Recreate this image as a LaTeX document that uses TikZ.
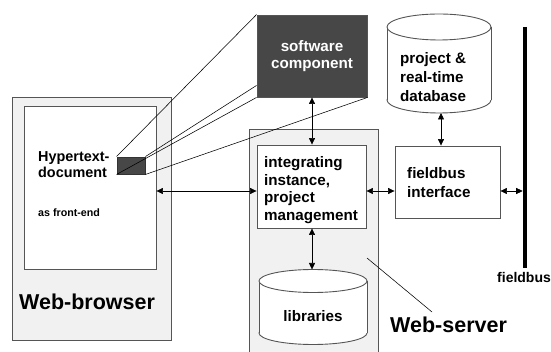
\documentclass[tikz,border=0pt]{standalone}
\usepackage{fontspec}
\setmainfont{Liberation Sans}
\usetikzlibrary{arrows.meta}
\definecolor{panel}{HTML}{F1F1F1}
\definecolor{dark}{HTML}{474747}
\definecolor{edge}{HTML}{555555}
\begin{document}
\begin{tikzpicture}[x=1pt,y=-1pt,
  box/.style={draw=edge, line width=0.9pt, inner sep=0pt},
  arr/.style={{Triangle[length=6.5pt,width=6pt]}-{Triangle[length=6.5pt,width=6pt]}, line width=0.6pt, black},
  proj/.style={line width=0.55pt, black},
  txt/.style={inner sep=0pt, align=left, font=\bfseries\fontsize{15.2}{17.6}\selectfont}]
\useasboundingbox (0,0) rectangle (551,352);
\fill[white] (0,0) rectangle (551,352);
\begin{scope}
\clip (0,0) rectangle (551,352);
% Web-browser
\node[box, fill=panel, minimum width=159pt, minimum height=243pt] (browser) at (91.5,218.5) {};
\node[box, fill=white, minimum width=132pt, minimum height=163pt] (doc) at (90,187.5) {};
% Web-server
\node[box, fill=panel, minimum width=129pt, minimum height=226pt] (server) at (313.5,242) {};
\node[box, fill=white, minimum width=109pt, minimum height=83pt] (integ) at (311.5,186.5) {};
% software component
\node[box, fill=dark, minimum width=110pt, minimum height=82pt, text=white, align=center,
      font=\bfseries\fontsize{15.2}{17}\selectfont] (comp) at (312,56) {software\\component};
% small block in document
\node[box, draw=black!80, fill=dark, minimum width=28pt, minimum height=17pt] (block) at (131,165.5) {};
% projection lines
\draw[proj] (block.north west) -- (comp.north west);
\draw[proj] (block.north east) -- ([yshift=12pt]comp.south west);
\draw[proj] (block.south west) -- (comp.south west);
\draw[proj] (block.south east) -- (comp.south east);
% fieldbus interface
\node[box, fill=white, minimum width=105pt, minimum height=72pt] (fbi) at (447.5,182) {};
% libraries cylinder
\draw[edge, line width=0.9pt, fill=white] (313,333) ellipse[x radius=54pt, y radius=11.5pt];
\fill[white] (259,281) rectangle (367,333);
\draw[edge, line width=0.9pt] (259,281) -- (259,333) (367,281) -- (367,333);
\draw[edge, line width=0.9pt, fill=white] (313,281) ellipse[x radius=54pt, y radius=11.5pt];
\coordinate (libtop) at (313,269.5);
\node[txt, anchor=base] (lib) at (313,322) {libraries};
% database cylinder
\draw[edge, line width=0.9pt, fill=white] (439,100) ellipse[x radius=52pt, y radius=13pt];
\fill[white] (387,27) rectangle (491,100);
\draw[edge, line width=0.9pt] (387,27) -- (387,100) (491,27) -- (491,100);
\draw[edge, line width=0.9pt, fill=white] (439,27) ellipse[x radius=52pt, y radius=13pt];
\coordinate (dbbot) at (441,113);
\node[txt, anchor=north west, font=\bfseries\fontsize{15.2}{18.7}\selectfont] (dbtext) at (400,52.5) {project \&\\real-time\\database};
% fieldbus
\coordinate (bustop) at (525,27);
\coordinate (busbot) at (525,268);
\draw[line width=4.6pt, black] (bustop) -- (busbot);
% texts
\node[txt, anchor=north west, font=\bfseries\fontsize{14.4}{16}\selectfont] (hyper) at (38,151.5) {Hypertext-\\document};
\node[txt, anchor=base west, font=\bfseries\fontsize{10.7}{12}\selectfont] (front) at (38,217) {as front-end};
\node[txt, anchor=base west, font=\bfseries\fontsize{21.5}{24}\selectfont] (wb) at (19,309) {Web-browser};
\node[txt, anchor=north west] (integtext) at (264,156.2) {integrating\\instance,\\project\\management};
\node[txt, anchor=north west, font=\bfseries\fontsize{15.2}{19}\selectfont] (fbitext) at (407,167) {fieldbus\\interface};
\node[txt, anchor=base west, font=\bfseries\fontsize{21.5}{24}\selectfont] (ws) at (390,332) {Web-server};
\node[txt, anchor=base west, font=\bfseries\fontsize{14}{16}\selectfont] (fb) at (497,283) {fieldbus};
% pointer line for Web-server
\coordinate (wsp) at (367,258);
\coordinate (wsq) at (432,312);
\draw[proj] (wsp) -- (wsq);
% arrows
\coordinate (h) at (200,191);
\draw[arr] (comp.south) -- (comp.south |- integ.north);
\draw[arr] (doc.east |- h) -- (integ.west |- h);
\draw[arr] (integ.east |- h) -- (fbi.west |- h);
\draw[arr] (fbi.east |- h) -- ([xshift=-2.3pt]bustop |- h);
\draw[arr] (dbbot) -- (dbbot |- fbi.north);
\draw[arr] (comp.south |- integ.south) -- (comp.south |- libtop);
\end{scope}
\end{tikzpicture}
\end{document}
